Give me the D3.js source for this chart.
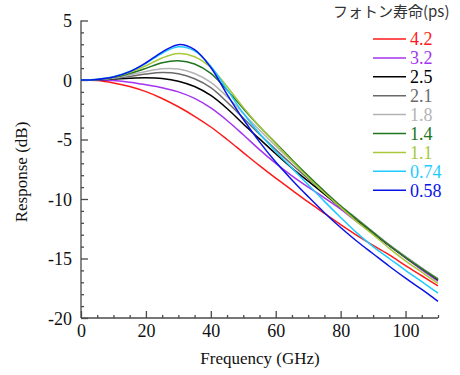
<!DOCTYPE html>
<html><head><meta charset="utf-8">
<script src="https://cdn.jsdelivr.net/npm/d3@7"></script>
<style>body{margin:0;background:#fff}svg{display:block}text{font-family:"Liberation Serif","Times New Roman",serif}</style>
</head><body>
<script>
const freq = [0,5,10,15,20,25,30,35,40,45,50,55,60,65,70,75,80,85,90,95,100,105,110];
const lifetimes = ["4.2","3.2","2.5","2.1","1.8","1.4","1.1","0.74","0.58"];
const colors = ["#ff1a1a","#a335f0","#000000","#6a6a6a","#b4b4b4","#207520","#a8c83a","#1ecbff","#0a14e6"];
const r42  = [0,-0.05,-0.25,-0.55,-0.98,-1.55,-2.25,-3.05,-3.95,-5.0,-6.1,-7.2,-8.25,-9.25,-10.25,-11.2,-12.15,-13.05,-13.9,-14.7,-15.6,-16.45,-17.3];
const r32  = [0,0,-0.05,-0.18,-0.4,-0.65,-1.0,-1.55,-2.35,-3.4,-4.6,-5.85,-7.0,-8.05,-9.0,-9.9,-10.85,-11.9,-12.9,-13.95,-14.95,-15.95,-16.9];
const r25  = [0,0.02,0.08,0.15,0.18,0.12,-0.1,-0.55,-1.3,-2.4,-3.7,-4.95,-6.2,-7.4,-8.5,-9.6,-10.7,-11.8,-12.85,-13.9,-14.9,-15.85,-16.8];
const r21  = [0,0.03,0.12,0.3,0.5,0.62,0.52,0.1,-0.65,-1.85,-3.2,-4.55,-5.85,-7.1,-8.3,-9.45,-10.6,-11.7,-12.8,-13.85,-14.85,-15.8,-16.7];
const r18  = [0,0.04,0.17,0.42,0.72,0.95,0.92,0.55,-0.2,-1.4,-2.8,-4.2,-5.55,-6.85,-8.1,-9.35,-10.55,-11.65,-12.75,-13.85,-14.85,-15.8,-16.7];
const r14  = [0,0.05,0.22,0.55,0.98,1.45,1.62,1.35,0.55,-0.85,-2.4,-3.9,-5.3,-6.7,-8.05,-9.35,-10.6,-11.7,-12.8,-13.9,-14.9,-15.85,-16.75];
const r11  = [0,0.06,0.26,0.65,1.2,1.85,2.22,1.95,1.05,-0.55,-2.3,-3.9,-5.35,-6.8,-8.2,-9.5,-10.7,-11.9,-13.0,-14.15,-15.2,-16.15,-17.1];
const r074 = [0,0.06,0.28,0.72,1.4,2.25,2.8,2.45,1.15,-0.8,-2.8,-4.5,-6.0,-7.4,-8.8,-10.2,-11.55,-12.85,-14.0,-15.0,-16.0,-16.95,-17.9];
const r058 = [0,0.05,0.25,0.7,1.45,2.35,2.97,2.55,1.05,-1.2,-3.3,-5.2,-6.9,-8.4,-9.8,-11.15,-12.4,-13.55,-14.6,-15.65,-16.65,-17.6,-18.6];
const series = [r42,r32,r25,r21,r18,r14,r11,r074,r058];
const xTicks = [0,20,40,60,80,100];
const yTicks = [5,0,-5,-10,-15,-20];
const legendTitle = "フォトン寿命(ps)";
const xTitle = "Frequency (GHz)";
const yTitle = "Response (dB)";

const W = 460, H = 375;
const svg = d3.select("body").append("svg").attr("width", W).attr("height", H);
const x = d3.scaleLinear().domain([0,110]).range([81,438]);
const y = d3.scaleLinear().domain([-20,5]).range([318,20.5]);
const serif = "Liberation Serif, Times New Roman, serif";
const axisColor = "#4a4a4a";

// x axis
const gx = svg.append("g").attr("transform", `translate(0,${y(-20)})`);
gx.call(d3.axisBottom(x).tickValues(d3.range(0,111,5)).tickSize(-3).tickFormat(""));
gx.attr("font-family", null);
gx.call(g => g.selectAll(".tick line").filter(d => xTicks.includes(d)).attr("y2", -7));
gx.select(".domain").attr("d", `M${x(0)},0H${x(110)}`);
gx.selectAll("line,path").attr("stroke", axisColor).attr("stroke-width", 1.3);
gx.selectAll(".tick text").remove();
gx.selectAll(".tick").filter(d => xTicks.includes(d)).append("text")
  .attr("y", 19).attr("text-anchor","middle").attr("fill","#111")
  .attr("font-family", serif).attr("font-size", 18).text(d => d);

// y axis
const gy = svg.append("g").attr("transform", `translate(${x(0)},0)`);
gy.call(d3.axisLeft(y).tickValues(d3.range(-20,5.01,1)).tickSize(-3).tickFormat(""));
gy.attr("font-family", null);
gy.call(g => g.selectAll(".tick line").filter(d => yTicks.includes(d)).attr("x2", 7));
gy.select(".domain").attr("d", `M0,${y(-20)}V${y(5)}`);
gy.selectAll("line,path").attr("stroke", axisColor).attr("stroke-width", 1.3);
gy.selectAll(".tick text").remove();
gy.selectAll(".tick").filter(d => yTicks.includes(d)).append("text")
  .attr("x", -9).attr("dy","0.35em").attr("text-anchor","end").attr("fill","#111")
  .attr("font-family", serif).attr("font-size", 18).text(d => d);

// axis titles
svg.append("text").attr("x", 260).attr("y", 364).attr("text-anchor","middle")
  .attr("font-family", serif).attr("font-size", 17).attr("fill","#111").text(xTitle);
svg.append("text").attr("transform", `translate(27,172) rotate(-90)`).attr("text-anchor","middle")
  .attr("font-family", serif).attr("font-size", 17).attr("fill","#111").text(yTitle);

// curves
const line = d3.line().x((d,i) => x(freq[i])).y(d => y(d)).curve(d3.curveCatmullRom.alpha(0.5));
svg.append("g").selectAll("path").data(series).join("path")
  .attr("d", line).attr("fill","none").attr("stroke",(d,i)=>colors[i]).attr("stroke-width",1.5);

// legend
svg.append("text").attr("x", 333).attr("y", 17)
  .style("font-family","'Noto Sans CJK JP','Noto Sans',sans-serif").attr("font-size", 15)
  .attr("fill","#333").text(legendTitle);
const lg = svg.append("g").selectAll("g").data(lifetimes).join("g")
  .attr("transform",(d,i)=>`translate(0,${39 + i*18.9})`);
lg.append("line").attr("x1",373).attr("x2",406).attr("stroke",(d,i)=>colors[i]).attr("stroke-width",1.5);
lg.append("text").attr("x",410).attr("dy","0.35em").attr("fill",(d,i)=>colors[i])
  .attr("font-family", serif).attr("font-size", 18).text(d=>d);
</script>
</body></html>
